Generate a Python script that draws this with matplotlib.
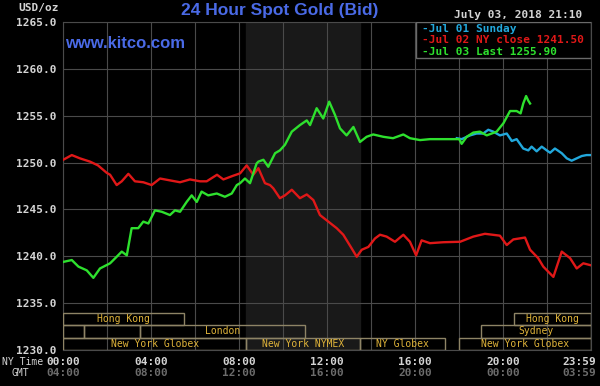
import matplotlib
matplotlib.use("Agg")
import matplotlib.pyplot as plt
from matplotlib.patches import Rectangle
import matplotlib.transforms as mtransforms

# hours since 00:00 NY time, bid price in USD/oz
red_h = [0.01, 0.40, 0.77, 1.23, 1.59, 1.99, 2.14, 2.44, 2.67, 2.97, 3.27, 3.65, 4.03, 4.41,
         4.86, 5.32, 5.77, 6.23, 6.53, 7.00, 7.29, 7.74, 8.05, 8.35, 8.65, 8.88, 9.18, 9.41,
         9.56, 9.86, 10.09, 10.40, 10.77, 11.08, 11.38, 11.68, 12.06, 12.44, 12.74, 13.12,
         13.35, 13.58, 13.88, 14.18, 14.41, 14.71, 15.09, 15.47, 15.77, 16.05, 16.30, 16.68,
         17.29, 18.05, 18.65, 19.18, 19.86, 20.17, 20.47, 21.00, 21.23, 21.60, 21.83, 22.06,
         22.29, 22.67, 23.05, 23.35, 23.65, 23.98]
red_v = [1250.3, 1250.8, 1250.45, 1250.1, 1249.7, 1248.9, 1248.7, 1247.6, 1248.0, 1248.8,
         1248.0, 1247.9, 1247.6, 1248.3, 1248.1, 1247.9, 1248.2, 1248.0, 1248.0, 1248.7,
         1248.2, 1248.6, 1248.85, 1249.7, 1248.7, 1249.4, 1247.8, 1247.6, 1247.25, 1246.2,
         1246.5, 1247.1, 1246.2, 1246.6, 1246.0, 1244.4, 1243.7, 1243.0, 1242.3, 1240.85,
         1239.95, 1240.7, 1241.0, 1241.9, 1242.3, 1242.1, 1241.55, 1242.3, 1241.55, 1240.1,
         1241.7, 1241.4, 1241.5, 1241.55, 1242.1, 1242.4, 1242.2, 1241.2, 1241.8, 1242.0,
         1240.7, 1239.8, 1238.9, 1238.35, 1237.8, 1240.5, 1239.8, 1238.7, 1239.25, 1239.05]

green_h = [0.01, 0.40, 0.70, 1.08, 1.38, 1.68, 2.14, 2.44, 2.67, 2.90, 3.12, 3.42, 3.65, 3.88,
           4.18, 4.49, 4.86, 5.09, 5.32, 5.62, 5.85, 6.08, 6.30, 6.60, 6.99, 7.36, 7.67, 7.90,
           8.05, 8.27, 8.50, 8.80, 8.88, 9.11, 9.33, 9.64, 9.86, 10.09, 10.40, 10.77, 11.08,
           11.23, 11.53, 11.83, 12.10, 12.36, 12.59, 12.89, 13.20, 13.50, 13.80, 14.10, 14.56,
           15.00, 15.47, 15.77, 16.23, 16.68, 17.29, 18.01, 18.12, 18.35, 18.65, 18.95, 19.26,
           19.71, 20.02, 20.32, 20.62, 20.80, 20.92, 21.05, 21.15, 21.23]
green_v = [1239.4, 1239.6, 1238.9, 1238.5, 1237.7, 1238.7, 1239.25, 1239.95, 1240.5, 1240.1,
           1243.0, 1243.0, 1243.7, 1243.5, 1244.9, 1244.75, 1244.4, 1244.9, 1244.75, 1245.8,
           1246.5, 1245.8, 1246.9, 1246.5, 1246.7, 1246.35, 1246.7, 1247.6, 1247.8, 1248.3,
           1247.8, 1249.9, 1250.1, 1250.3, 1249.55, 1251.0, 1251.3, 1251.9, 1253.3, 1254.0,
           1254.5, 1254.0, 1255.8, 1254.7, 1256.5, 1255.1, 1253.65, 1252.9, 1253.8, 1252.2,
           1252.75, 1253.0, 1252.75, 1252.6, 1253.0, 1252.6, 1252.4, 1252.5, 1252.5, 1252.5,
           1252.0, 1252.75, 1253.2, 1253.3, 1252.9, 1253.3, 1254.2, 1255.5, 1255.5, 1255.25,
           1256.3, 1257.1, 1256.6, 1256.3]

blue_h = [17.90, 18.12, 18.50, 18.80, 19.10, 19.33, 19.56, 19.86, 20.17, 20.40, 20.62, 20.92,
          21.15, 21.30, 21.53, 21.76, 21.99, 22.14, 22.36, 22.67, 22.90, 23.12, 23.35, 23.58,
          23.80, 23.98]
blue_v = [1252.6, 1252.5, 1252.9, 1253.1, 1253.1, 1253.5, 1253.3, 1252.9, 1253.1, 1252.3,
          1252.5, 1251.5, 1251.3, 1251.7, 1251.2, 1251.7, 1251.3, 1251.05, 1251.5, 1251.0,
          1250.45, 1250.2, 1250.45, 1250.7, 1250.8, 1250.8]

legend_labels = ["-Jul 01 Sunday", "-Jul 02 NY close 1241.50", "-Jul 03 Last 1255.90"]

ny_ticks = [0, 4, 8, 12, 16, 20, 24]
ny_labels = ["00:00", "04:00", "08:00", "12:00", "16:00", "20:00", "23:59"]
gmt_labels = ["04:00", "08:00", "12:00", "16:00", "20:00", "00:00", "03:59"]
y_ticks = [1230, 1235, 1240, 1245, 1250, 1255, 1260, 1265]

# trading sessions: row (0 = bottom), start hour, end hour, label
sess_row = [0, 0, 0, 0, 1, 1, 1, 1, 2, 2]
sess_start = [0.0, 8.33, 13.5, 18.0, 0.0, 0.95, 3.5, 19.0, 0.0, 20.5]
sess_end = [8.33, 13.5, 17.35, 24.0, 0.95, 3.5, 11.0, 24.0, 5.5, 24.0]
sess_label = ["New York Globex", "New York NYMEX", "NY Globex", "New York Globex",
              "", "", "London", "Sydney", "Hong Kong", "Hong Kong"]

BG = "#000000"
GRID = "#4a4a4a"
TXT = "#d4d4d4"
MONO = "DejaVu Sans Mono"

fig = plt.figure(figsize=(6, 3.86), dpi=100, facecolor=BG)
ax = fig.add_axes([63 / 600, 1 - 350 / 386, 528 / 600, 328 / 386], facecolor=BG)
ax.set_xlim(0, 24)
ax.set_ylim(1230, 1265)

# NY pit session shading
ax.axvspan(8.33, 13.5, color="#191919", zorder=0)

ax.set_xticks(range(0, 25, 2))
ax.set_xticklabels([])
ax.set_yticks(y_ticks)
ax.set_yticklabels([f"{v:.1f}" for v in y_ticks], family=MONO, weight="bold")
ax.tick_params(axis="both", length=0, colors=TXT, labelsize=8)
ax.tick_params(axis="y", pad=5)
ax.grid(True, color=GRID, lw=0.8, zorder=1)
for s in ax.spines.values():
    s.set_color(GRID)

ax.plot(red_h, red_v, color="#e01818", lw=1.7, zorder=3)
ax.plot(blue_h, blue_v, color="#22a8dc", lw=1.7, zorder=3)
ax.plot(green_h, green_v, color="#2ee02e", lw=1.7, zorder=4)

# session boxes
row_h = 1.32
for r, a, b, lab in zip(sess_row, sess_start, sess_end, sess_label):
    y0 = 1230 + r * row_h
    ax.add_patch(Rectangle((a, y0), b - a, row_h, fill=False, edgecolor="#8e8466",
                           lw=1.0, zorder=5))
    if lab:
        ax.text((a + b) / 2, y0 + row_h / 2, lab, color="#e0b43a", fontsize=7,
                family=MONO, ha="center", va="center", zorder=6)

# x labels, NY time and GMT
trans = mtransforms.blended_transform_factory(ax.transData, fig.transFigure)
for h, a, g in zip(ny_ticks, ny_labels, gmt_labels):
    xx = h - 0.55 if h == 24 else h
    ax.text(xx, 1 - 362 / 386, a, transform=trans, color=TXT, fontsize=8, family=MONO,
            weight="bold", ha="center", va="center")
    ax.text(xx, 1 - 373 / 386, g, transform=trans, color="#6c6c6c", fontsize=8,
            family=MONO, weight="bold", ha="center", va="center")
fig.text(2 / 600, 1 - 362 / 386, "NY Time", color=TXT, fontsize=7, family=MONO,
         ha="left", va="center")
fig.text(12 / 600, 1 - 373 / 386, "GMT", color=TXT, fontsize=7, family=MONO,
         ha="left", va="center")

# header
fig.text(18 / 600, 1 - 8 / 386, "USD/oz", color=TXT, fontsize=8, family=MONO,
         weight="bold", ha="left", va="center")
fig.text(280 / 600, 1 - 11 / 386, "24 Hour Spot Gold (Bid)", color="#4a6ae6",
         fontsize=12.5, family="Liberation Sans", weight="bold", ha="center", va="center")
fig.text(582 / 600, 1 - 15 / 386, "July 03, 2018 21:10", color=TXT, fontsize=8,
         family=MONO, weight="bold", ha="right", va="center")
ax.text(0.004, 0.935, "www.kitco.com", transform=ax.transAxes, color="#4a6ae6",
        fontsize=12, family="Liberation Sans", weight="bold", ha="left", va="center",
        zorder=7)

# legend box
ax.add_patch(Rectangle((0.669, 0.89), 0.331, 0.11, transform=ax.transAxes,
                       facecolor=BG, edgecolor="#6a6a6a", lw=1.0, zorder=8))
for i, (lab, c) in enumerate(zip(legend_labels, ["#22a8dc", "#e01818", "#2ee02e"])):
    ax.text(0.68, 0.98 - i * 0.036, lab, transform=ax.transAxes, color=c, fontsize=8,
            family=MONO, weight="bold", ha="left", va="center", zorder=9)

fig.savefig("out.png", dpi=100, facecolor=BG)
